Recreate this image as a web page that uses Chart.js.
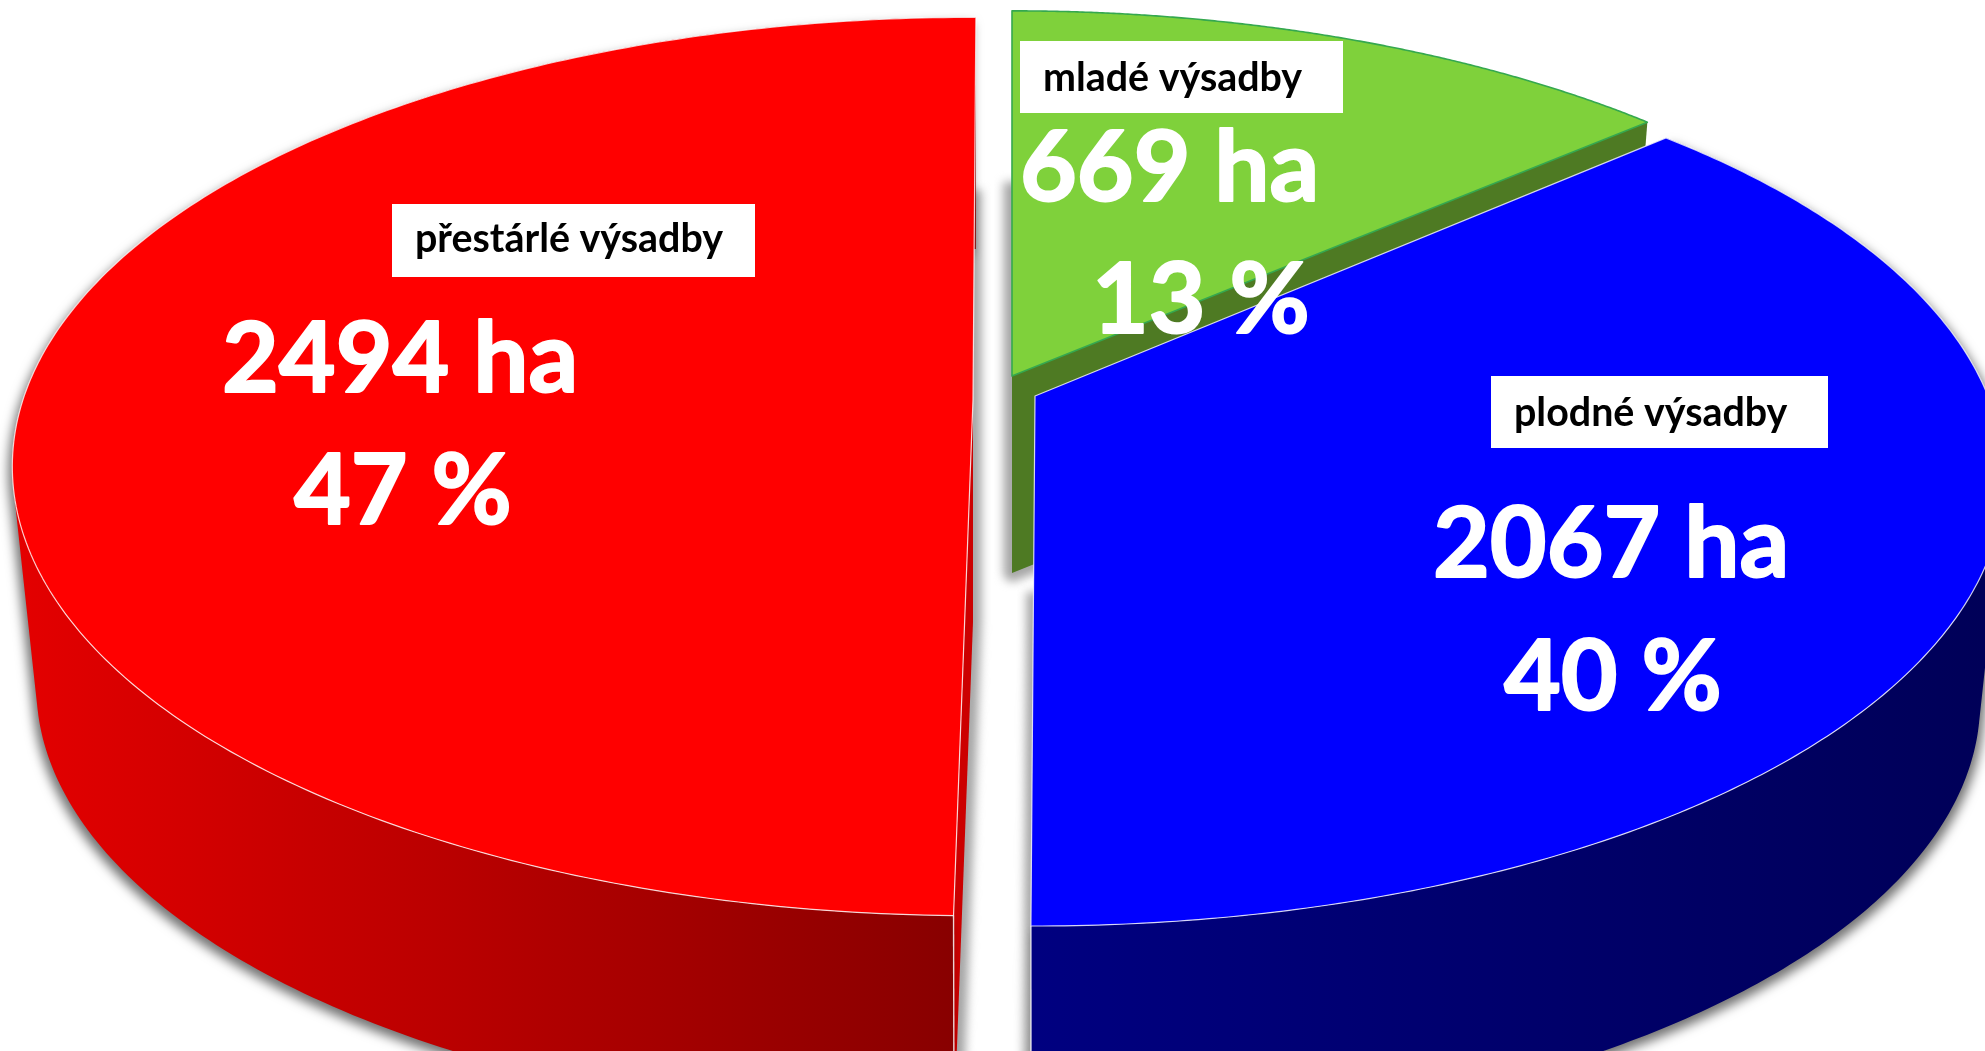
<!DOCTYPE html>
<html lang="cs">
<head>
<meta charset="utf-8">
<title>Výsadby</title>
<style>html,body{margin:0;padding:0;background:#fff;overflow:hidden}canvas{display:block}</style>
<script src="https://cdn.jsdelivr.net/npm/chart.js@4/dist/chart.umd.min.js"></script>
</head>
<body>
<canvas id="c" width="1985" height="1051"></canvas>
<script>
const categories = ['mladé výsadby', 'plodné výsadby', 'přestárlé výsadby'];
const hectares = [669, 2067, 2494];
const percentLabels = ['13 %', '40 %', '47 %'];
const faceColors = ['#7fd13b', '#0000ff', '#ff0000'];

// Appearance of each slice: the picture is a perspective view, so each exploded slice has its own
// apex, foreshortening and on-picture start/end angle (the projection compresses angles a little).
const sliceViews = [
  {ax:1012, ay:376, k:.196, rx:1.808, ry:.831, depth:197, from:0, to:49, wall:'end', wallColor:'#4e7a23', edge:'#35a84f', edgeWidth:1.6, gapTop:182, gapEnd:1},
  {ax:1035, ay:396, k:.183, rx:1.8135, ry:.824, depth:226, from:48, to:180.2, side:['#000080','#000058'], edge:'rgba(255,255,255,.8)', edgeWidth:1.2, shadowDx:4, gapTop:592, gapEnd:1},
  {ax:973, ay:400, k:.148, rx:1.808, ry:.836, depth:222, from:181, to:360.2, wall:'start', wallColor:'#cc0000', side:['#e40000','#880000'], edge:'rgba(255,255,255,.8)', edgeWidth:1.2, shadowDx:-4, gapTop:190, gapEnd:0}
];
const paintOrder = [0, 2, 1];
const bottomScale = .975;

const labelBoxes = [[1020,41,323,72],[1491,376,337,72],[392,204,363,73]];
const labelAnchors = [[1043,91],[1514,426],[415,252]];
const valueAnchors = [[1020,201],[1433,577],[222,392]];
const percentAnchors = [[1092,333],[1504,710],[294,524]];

function project(arc,view,chartAngle,bottom){
  const t=(chartAngle-arc.startAngle)/(arc.endAngle-arc.startAngle);
  const th=(view.from+t*(view.to-view.from))*Math.PI/180;
  const u=Math.sin(th), v=-Math.cos(th), w=1-view.k*v, s=bottom?bottomScale:1;
  return [view.ax+s*arc.outerRadius*view.rx*u/w, view.ay+(bottom?view.depth:0)+s*arc.outerRadius*view.ry*v/w];
}
function rim(arc,view,bottom){
  const pts=[], n=240;
  for(let i=0;i<=n;i++) pts.push(project(arc,view,arc.startAngle+(arc.endAngle-arc.startAngle)*i/n,bottom));
  return pts;
}
function poly(ctx,pts,close){
  ctx.beginPath();
  pts.forEach((p,i)=>i?ctx.lineTo(p[0],p[1]):ctx.moveTo(p[0],p[1]));
  if(close) ctx.closePath();
}
function bandPath(ctx,top,bot){
  ctx.beginPath();
  for(let i=0;i<top.length-1;i++){
    let q=[top[i],top[i+1],bot[i+1],bot[i]];
    let area=0;
    q.forEach((p,j)=>{const r=q[(j+1)%4];area+=p[0]*r[1]-r[0]*p[1];});
    if(area<0) q=q.reverse();
    q.forEach((p,j)=>j?ctx.lineTo(p[0],p[1]):ctx.moveTo(p[0],p[1]));
    ctx.closePath();
  }
}
function paintSlice(ctx,arc,view,color){
  const top=rim(arc,view,false), bot=rim(arc,view,true);
  const apex=[view.ax,view.ay], apexB=[view.ax,view.ay+view.depth];
  if(view.wall){
    const a=view.wall==='end'?top[top.length-1]:top[0];
    const b=view.wall==='end'?bot[bot.length-1]:bot[0];
    ctx.fillStyle=view.wallColor;
    poly(ctx,[apex,a,b,apexB],true);ctx.fill();
  }
  if(view.side){
    const g=ctx.createLinearGradient(view.shadowDx<0?15:1035,0,view.shadowDx<0?955:1985,0);
    g.addColorStop(0,view.side[0]);g.addColorStop(1,view.side[1]);
    ctx.save();
    ctx.shadowColor='rgba(0,0,0,.55)';ctx.shadowBlur=11;ctx.shadowOffsetX=view.shadowDx;ctx.shadowOffsetY=6;
    ctx.fillStyle=g;
    bandPath(ctx,top,bot);ctx.fill('nonzero');
    ctx.restore();
    const c=view.shadowDx<0?0:top.length-1;
    ctx.strokeStyle=view.edge;ctx.lineWidth=1.4;
    poly(ctx,[top[c],bot[c]],false);ctx.stroke();
  }
  ctx.fillStyle=color;
  poly(ctx,[apex].concat(top),true);ctx.fill();
  ctx.strokeStyle=view.edge;ctx.lineWidth=view.edgeWidth;ctx.lineJoin='round';
  poly(ctx,[apex].concat(top),true);ctx.stroke();
}
function paintGapShadows(ctx,arcs){
  ctx.save();
  ctx.filter='blur(5px)';
  ctx.strokeStyle='#a6a6a6';ctx.lineWidth=17;ctx.lineCap='butt';ctx.lineJoin='round';
  paintOrder.forEach(i=>{
    const view=sliceViews[i], bot=rim(arcs[i],view,true);
    const corner=view.gapEnd?bot[bot.length-1]:bot[0];
    poly(ctx,[[view.ax,view.gapTop],[view.ax,view.ay+view.depth],corner],false);
    ctx.stroke();
  });
  ctx.restore();
}
const pie3d={
  id:'pie3d',
  beforeDatasetDraw(chart,args){
    const ctx=chart.ctx, arcs=chart.getDatasetMeta(args.index).data;
    paintGapShadows(ctx,arcs);
    paintOrder.forEach(i=>paintSlice(ctx,arcs[i],sliceViews[i],chart.data.datasets[0].backgroundColor[i]));
    return false;
  },
  afterDraw(chart){
    const ctx=chart.ctx;
    ctx.save();
    ctx.textAlign='left';ctx.textBaseline='alphabetic';ctx.lineJoin='round';
    categories.forEach((name,i)=>{
      const b=labelBoxes[i];
      ctx.fillStyle='#fff';ctx.fillRect(b[0],b[1],b[2],b[3]);
      ctx.fillStyle='#000';ctx.font='700 39.4px Lato';
      ctx.fillText(name,labelAnchors[i][0],labelAnchors[i][1]);
      ctx.fillStyle='#fff';ctx.strokeStyle='#fff';ctx.lineWidth=2;ctx.font='700 98px Lato';
      ctx.fillText(hectares[i]+' ha',valueAnchors[i][0],valueAnchors[i][1]);
      ctx.strokeText(hectares[i]+' ha',valueAnchors[i][0],valueAnchors[i][1]);
      ctx.fillText(percentLabels[i],percentAnchors[i][0],percentAnchors[i][1]);
      ctx.strokeText(percentLabels[i],percentAnchors[i][0],percentAnchors[i][1]);
    });
    ctx.restore();
  }
};
new Chart(document.getElementById('c'),{
  type:'pie',
  data:{labels:categories,datasets:[{data:hectares,backgroundColor:faceColors,borderWidth:0}]},
  options:{responsive:false,animation:false,layout:{padding:0},plugins:{legend:{display:false},tooltip:{enabled:false}}},
  plugins:[pie3d]
});
</script>
</body>
</html>
